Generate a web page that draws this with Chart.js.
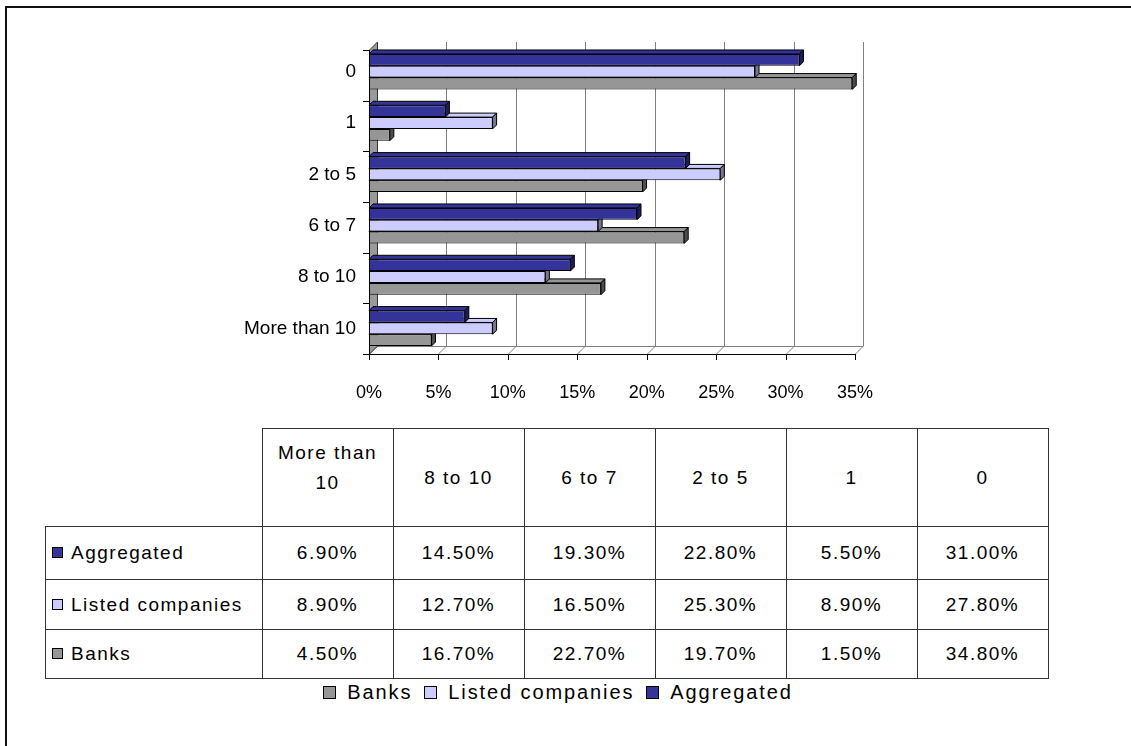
<!DOCTYPE html>
<html>
<head>
<meta charset="utf-8">
<script src="https://cdn.jsdelivr.net/npm/chart.js@4"></script>
<style>
  body { margin: 0; background: #fff; font-family: "Liberation Sans", sans-serif; color: #000; }
  #wrap { position: relative; width: 1131px; height: 746px; overflow: hidden; }
  #frame { position: absolute; left: 5px; top: 6px; width: 2000px; height: 2000px;
           border-top: 2px solid #111; border-left: 2px solid #111; }
  #chart { position: absolute; left: 0; top: 0; }
  #tbl { position: absolute; left: 45px; top: 428px; border-collapse: collapse;
         font-size: 19px; letter-spacing: 1.5px; }
  #tbl td { border: 1px solid #333; text-align: center; padding: 0; }
  #tbl td.blank { border: none; }
  #tbl td.name { text-align: left; padding-left: 6px; white-space: nowrap; }
  #tbl tr.head td { height: 97px; line-height: 30px; }
  .key { display: inline-block; width: 9px; height: 9px; border: 1px solid #000;
         margin-right: 8px; vertical-align: middle; position: relative; top: -1px; }
  #legend { position: absolute; left: 0; width: 1116px; text-align: center; top: 681px;
            font-size: 20px; letter-spacing: 1.9px; white-space: nowrap; }
  #legend span.item { margin: 0 6px; }
  #legend .key { width: 11px; height: 11px; margin-right: 11px; }
</style>
</head>
<body>
<div id="wrap">
  <div id="frame"></div>
  <canvas id="chart" width="1131" height="420"></canvas>
  <table id="tbl"></table>
  <div id="legend"></div>
</div>
<script>
var categories = ['0', '1', '2 to 5', '6 to 7', '8 to 10', 'More than 10'];
var aggregated = [31.0, 5.5, 22.8, 19.3, 14.5, 6.9];
var listed = [27.8, 8.9, 25.3, 16.5, 12.7, 8.9];
var banks = [34.8, 1.5, 19.7, 22.7, 16.7, 4.5];
var seriesNames = ['Aggregated', 'Listed companies', 'Banks'];
var xTicks = [0, 5, 10, 15, 20, 25, 30, 35];

var fronts = ['#333399', '#ccccff', '#969696'];
var sides = ['#1c1c5e', '#77778f', '#4d4d4d'];

// walls, floor and the depth faces of each bar, drawn under the front faces
var box3d = {
  id: 'box3d',
  beforeDatasetsDraw: function(chart) {
    var ctx = chart.ctx, a = chart.chartArea, xs = chart.scales.x;
    var d = 8, e = 4;
    var fl = a.left, fr = a.right, ft = a.top + 4, fb = a.bottom;
    ctx.save();
    ctx.lineWidth = 1;

    // back wall grid
    ctx.strokeStyle = '#808080';
    xTicks.forEach(function(v) {
      var px = Math.round(xs.getPixelForValue(v)) + 0.5;
      ctx.beginPath();
      ctx.moveTo(px + d, ft - d);
      ctx.lineTo(px + d, fb - d);
      ctx.stroke();
      ctx.beginPath();
      ctx.moveTo(px, fb);
      ctx.lineTo(px + d, fb - d);
      ctx.stroke();
    });
    ctx.beginPath();
    ctx.moveTo(fl + d, fb - d + 0.5);
    ctx.lineTo(fr + d, fb - d + 0.5);
    ctx.stroke();

    // left wall
    ctx.fillStyle = '#9a9a9a';
    ctx.strokeStyle = '#333';
    ctx.beginPath();
    ctx.moveTo(fl + 0.5, ft);
    ctx.lineTo(fl + d + 0.5, ft - d);
    ctx.lineTo(fl + d + 0.5, fb - d);
    ctx.lineTo(fl + 0.5, fb);
    ctx.closePath();
    ctx.fill();
    ctx.stroke();

    // front axes with tick marks
    ctx.strokeStyle = '#000';
    ctx.beginPath();
    ctx.moveTo(fl + 0.5, ft);
    ctx.lineTo(fl + 0.5, fb + 0.5);
    ctx.lineTo(fr, fb + 0.5);
    ctx.stroke();
    xTicks.forEach(function(v) {
      var px = Math.round(xs.getPixelForValue(v)) + 0.5;
      ctx.beginPath();
      ctx.moveTo(px, fb);
      ctx.lineTo(px, fb + 6);
      ctx.stroke();
    });
    for (var k = 0; k <= categories.length; k++) {
      var yy = Math.round(ft + k * (fb - ft) / categories.length) + 0.5;
      ctx.beginPath();
      ctx.moveTo(fl - 6, yy);
      ctx.lineTo(fl, yy);
      ctx.stroke();
    }

    // top and side faces, lower series first
    for (var i = chart.data.datasets.length - 1; i >= 0; i--) {
      var meta = chart.getDatasetMeta(i);
      meta.data.forEach(function(bar) {
        var p = bar.getProps(['x', 'y', 'base', 'height'], true);
        var top = p.y - p.height / 2, bot = p.y + p.height / 2;
        ctx.strokeStyle = '#000';
        ctx.fillStyle = fronts[i];
        ctx.beginPath();
        ctx.moveTo(p.base, top);
        ctx.lineTo(p.base + e, top - e);
        ctx.lineTo(p.x + e, top - e);
        ctx.lineTo(p.x, top);
        ctx.closePath();
        ctx.fill();
        ctx.stroke();
        ctx.fillStyle = sides[i];
        ctx.beginPath();
        ctx.moveTo(p.x, top);
        ctx.lineTo(p.x + e, top - e);
        ctx.lineTo(p.x + e, bot - e);
        ctx.lineTo(p.x, bot);
        ctx.closePath();
        ctx.fill();
        ctx.stroke();
      });
    }
    ctx.restore();
  }
};

var config = {
  type: 'bar',
  data: {
    labels: categories,
    datasets: [
      { label: seriesNames[0], data: aggregated, backgroundColor: fronts[0] },
      { label: seriesNames[1], data: listed, backgroundColor: fronts[1] },
      { label: seriesNames[2], data: banks, backgroundColor: fronts[2] }
    ]
  },
  options: {
    indexAxis: 'y',
    responsive: false,
    animation: false,
    layout: { padding: { left: 0, top: 46, right: 276, bottom: 16 } },
    datasets: {
      bar: {
        categoryPercentage: 0.69,
        barPercentage: 1.0,
        borderWidth: 1,
        borderColor: '#000',
        borderSkipped: false
      }
    },
    plugins: { legend: { display: false }, tooltip: { enabled: false } },
    scales: {
      x: {
        min: 0,
        max: 35,
        afterFit: function(s) { s.height = 50; },
        afterBuildTicks: function(s) { s.ticks = xTicks.map(function(v) { return { value: v }; }); },
        grid: { display: false, drawTicks: false },
        border: { display: false },
        ticks: {
          color: '#000',
          padding: 28,
          maxRotation: 0,
          font: { family: 'Liberation Sans', size: 18 },
          callback: function(v) { return v + '%'; }
        }
      },
      y: {
        afterFit: function(s) { s.width = 369; },
        grid: { display: false, drawTicks: false },
        border: { display: false },
        ticks: {
          color: '#000',
          padding: 13,
          font: { family: 'Liberation Sans', size: 19 }
        }
      }
    }
  },
  plugins: [box3d]
};

// data table under the plot, categories in reverse order
function buildTable() {
  var tbl = document.getElementById('tbl');
  var cols = categories.slice().reverse();
  var rows = [aggregated, listed, banks].map(function(s) { return s.slice().reverse(); });
  var html = '<tr class="head"><td class="blank" style="width:216px"></td>';
  cols.forEach(function(c) {
    // long labels wrap onto two lines and sit a little higher
    var lift = c.length > 8 ? 20 : 0;
    html += '<td style="width:130px"><div style="width:110px;margin:0 auto ' + lift + 'px">' + c + '</div></td>';
  });
  html += '</tr>';
  var heights = [52, 49, 48];
  rows.forEach(function(r, i) {
    html += '<tr><td class="name" style="height:' + heights[i] + 'px"><span class="key" style="background:' +
      fronts[i] + '"></span>' + seriesNames[i] + '</td>';
    r.forEach(function(v) { html += '<td>' + v.toFixed(2) + '%</td>'; });
    html += '</tr>';
  });
  tbl.innerHTML = html;
}

function buildLegend() {
  var lg = document.getElementById('legend');
  var html = '';
  [2, 1, 0].forEach(function(i) {
    html += '<span class="item"><span class="key" style="background:' + fronts[i] + '"></span>' + seriesNames[i] + '</span>';
  });
  lg.innerHTML = html;
}

buildTable();
buildLegend();
var ctx = document.getElementById('chart').getContext('2d');
window.myBar = new Chart(ctx, config);
</script>
</body>
</html>
